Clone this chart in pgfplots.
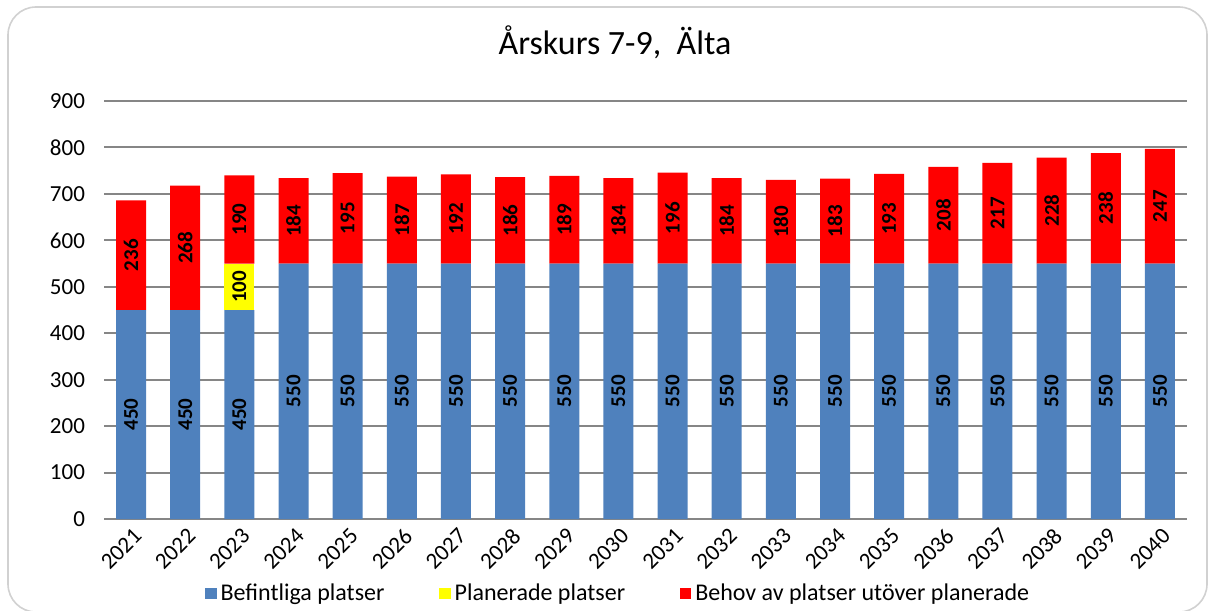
\documentclass[border=0pt]{standalone}
\usepackage{fontspec}
\setmainfont{Carlito}
\setsansfont{Carlito}
\usepackage{pgfplots}
\usepackage{pgfplotstable}
\pgfplotsset{compat=1.18}

\definecolor{befblue}{RGB}{79,129,189}
\definecolor{planyellow}{RGB}{255,255,0}
\definecolor{behovred}{RGB}{255,0,0}
\definecolor{gridgray}{RGB}{134,134,134}

\pgfplotsset{
    sqlegend/.style={legend image code/.code={\fill[##1] (0pt,-2.8pt) rectangle (5.6pt,2.8pt);}},
    chartbox/.style={at={(52pt,-259.5pt)}, anchor=south west,
        scale only axis, width=541.5pt, height=209pt,
        xmin=2020.5, xmax=2040.5, ymin=0, ymax=900},
}

\pgfplotstableread{
year base blue yellow ylab red
2021 0 450 0   {}  236
2022 0 450 0   {}  268
2023 0 450 100 100 190
2024 0 550 0   {}  184
2025 0 550 0   {}  195
2026 0 550 0   {}  187
2027 0 550 0   {}  192
2028 0 550 0   {}  186
2029 0 550 0   {}  189
2030 0 550 0   {}  184
2031 0 550 0   {}  196
2032 0 550 0   {}  184
2033 0 550 0   {}  180
2034 0 550 0   {}  183
2035 0 550 0   {}  193
2036 0 550 0   {}  208
2037 0 550 0   {}  217
2038 0 550 0   {}  228
2039 0 550 0   {}  238
2040 0 550 0   {}  247
}\data

\begin{document}
\begin{tikzpicture}
\useasboundingbox (0pt,0pt) rectangle (604.5pt,-305pt);
\draw[color=black!18, line width=0.8pt, rounded corners=14pt] (4pt,-3.5pt) rectangle (603.5pt,-306pt);
\node[font=\fontsize{17}{20}\selectfont] at (307.5pt,-21pt) {Årskurs 7-9,~~Älta};
\begin{axis}[
    chartbox,
    ybar stacked, bar width=15pt,
    ytick={0,100,...,900},
    xtick=\empty,
    axis line style={draw=none},
    ymajorgrids, grid style={color=gridgray, line width=1pt},
    major tick length=0pt,
    yticklabel style={font=\fontsize{11.5}{13}\selectfont, xshift=-6pt,
        /pgf/number format/assume math mode=true},
    nodes near coords,
    every node near coord/.append style={font=\bfseries\fontsize{10.5}{12}\selectfont, text=black,
        /pgf/number format/assume math mode=true, rotate=90, anchor=center},
    legend style={at={(0.0933,-0.179)}, anchor=west, draw=none, fill=none,
        legend columns=3, inner sep=0pt,
        font=\fontsize{12}{14}\selectfont,
        /tikz/every even column/.append style={column sep=25.5pt}},
]
\addplot[fill=befblue, draw=none, point meta=explicit, sqlegend]
    table[x=year, y=blue, meta=blue] {\data};
\addlegendentry{Befintliga platser}
\addplot[fill=planyellow, draw=none, point meta=explicit symbolic, sqlegend]
    table[x=year, y=yellow, meta=ylab] {\data};
\addlegendentry{Planerade platser}
\addplot[fill=behovred, draw=none, point meta=explicit, sqlegend]
    table[x=year, y=red, meta=red] {\data};
\addlegendentry{Behov av platser utöver planerade}
\end{axis}
% year labels under the bars
\begin{axis}[
    chartbox, hide axis, clip=false,
    nodes near coords,
    every node near coord/.append style={font=\fontsize{11.5}{13}\selectfont, text=black,
        xshift=-5pt, yshift=-15pt, rotate=45, anchor=center},
]
\addplot[draw=none, mark=none, point meta=explicit symbolic]
    table[x=year, y=base, meta=year] {\data};
\end{axis}
\end{tikzpicture}
\end{document}
